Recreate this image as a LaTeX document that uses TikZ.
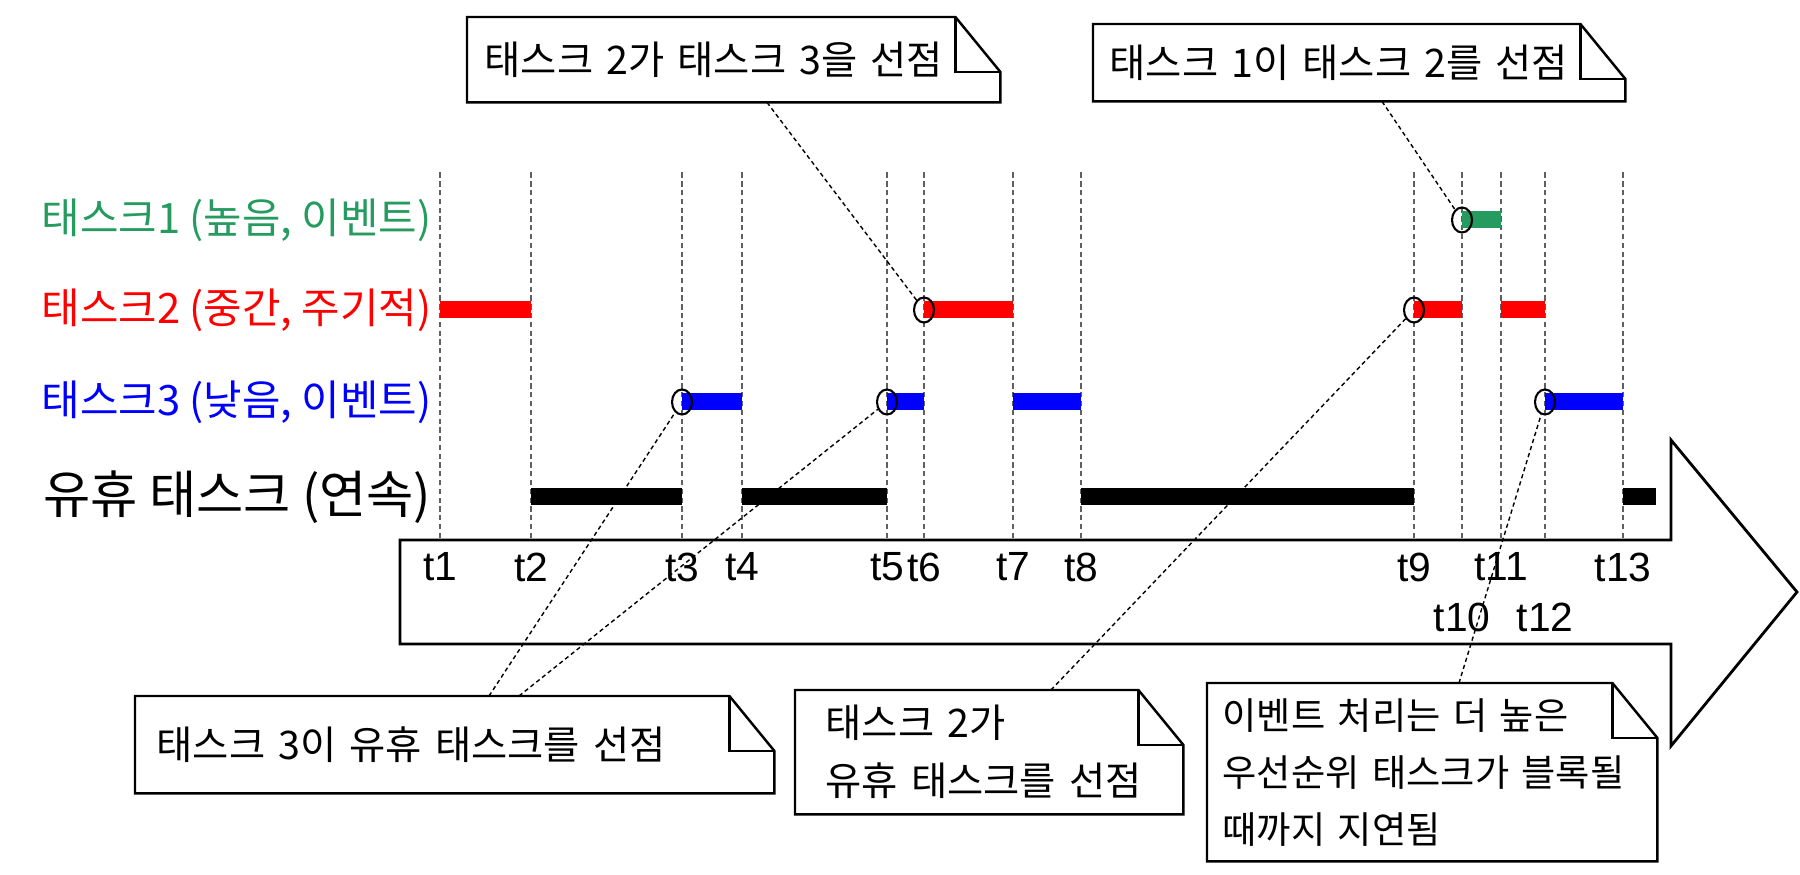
\documentclass[tikz,border=0pt]{standalone}
\usepackage{fontspec}
\setmainfont{Noto Sans CJK KR}
\newfontfamily\tickfont{Liberation Sans}
\usetikzlibrary{shapes.geometric}
\definecolor{taskgreen}{RGB}{38,155,95}

% folded-corner outline round a note node
\newcommand{\dogear}[1]{%
    \draw[note_line] (#1.south west) -- (#1.north west) -- ([xshift=-0.45cm]#1.north east)
        -- ([yshift=-0.55cm]#1.north east) -- (#1.south east) -- cycle;
    \draw[note_line] ([xshift=-0.45cm]#1.north east) |- ([yshift=-0.55cm]#1.north east);
}

\begin{document}
\begin{tikzpicture}[
        task_bar/.style={line width=0.17cm},
        timeline/.style={gray!75!black, line width=0.5pt, dash pattern=on 1.5pt off 1pt},
        ring/.style={ellipse, draw=black, line width=0.6pt, minimum width=0.2cm, minimum height=0.25cm, inner sep=0pt},
        tick_label/.style={font=\tickfont\fontsize{11.6}{13}\selectfont, inner sep=0pt},
        task_label/.style={anchor=east, inner sep=0pt, xshift=-0.08cm, font=\fontsize{11.9}{14}\selectfont},
        note/.style={anchor=north west, fill=white, inner ysep=0pt, align=left, font=\fontsize{11.2}{14}\selectfont},
        note_line/.style={black, line width=0.7pt},
        link/.style={black, line width=0.4pt, dash pattern=on 1.2pt off 0.9pt},
    ]
        \useasboundingbox (0,0) rectangle (18,8.74);

        % time arrow
        \draw[line width=0.8pt, fill=white] (4.00,3.34) -- (16.71,3.34) -- (16.71,4.34) -- (17.97,2.82)
            -- (16.71,1.28) -- (16.71,2.30) -- (4.00,2.30) -- cycle;

        % rows
        \coordinate (r1) at (0, 6.54);
        \coordinate (r2) at (0, 5.64);
        \coordinate (r3) at (0, 4.72);
        \coordinate (r4) at (0, 3.77);

        \foreach \n/\x in {1/4.40, 2/5.31, 3/6.82, 4/7.42, 5/8.87, 6/9.24, 7/10.13,
                8/10.81, 9/14.14, 10/14.62, 11/15.01, 12/15.45, 13/16.23} {
            \coordinate (t\n) at (\x, 3.36);
            \draw[timeline] (t\n) -- ++(0, 3.68);
        }

        \foreach \n in {1,...,9,11,13} {
            \node[tick_label] (lt\n) at (t\n |- 0,3.07) {t\n};
        }
        \foreach \n in {10,12} {
            \node[tick_label] (lt\n) at (t\n |- 0,2.57) {t\n};
        }

        % running slices
        \foreach \c/\a/\b/\r in {red/1/2/2, red/6/7/2, red/9/10/2, red/11/12/2, taskgreen/10/11/1,
                blue/3/4/3, blue/5/6/3, blue/7/8/3, blue/12/13/3, black/2/3/4, black/4/5/4, black/8/9/4} {
            \draw[task_bar, \c] (t\a |- r\r) -- (t\b |- r\r);
        }
        \draw[task_bar, black] (t13 |- r4) -- ++(0.33, 0);

        \foreach \n/\r in {3/3, 5/3, 6/2, 9/2, 10/1, 12/3} {
            \node[ring] (c\n) at (t\n |- r\r) {};
        }

        \node[task_label, text=taskgreen] (lab1) at (t1 |- r1) {태스크1 (높음, 이벤트)};
        \node[task_label, text=red] (lab2) at (t1 |- r2) {태스크2 (중간, 주기적)};
        \node[task_label, text=blue] (lab3) at (t1 |- r3) {태스크3 (낮음, 이벤트)};
        \node[task_label, font=\fontsize{14.6}{17}\selectfont] (lab4) at (t1 |- r4) {유휴 태스크 (연속)};

        % notes
        \node[note, text width=4.98cm, inner xsep=0.17cm, minimum height=0.84cm] (nA) at (4.67, 8.57) {태스크 2가 태스크 3을 선점};
        \node[note, text width=4.99cm, inner xsep=0.16cm, minimum height=0.76cm] (nB) at (10.93, 8.50) {태스크 1이 태스크 2를 선점};
        \node[note, text width=5.96cm, inner xsep=0.21cm, minimum height=0.96cm] (nC) at (1.35, 1.78) {태스크 3이 유휴 태스크를 선점};
        \node[note, text width=3.27cm, inner xsep=0.30cm, minimum height=1.23cm,
            font=\fontsize{11.2}{16.5}\selectfont] (nD) at (7.95, 1.84) {태스크 2가\\유휴 태스크를 선점};
        \node[note, text width=4.19cm, inner xsep=0.15cm, minimum height=1.77cm,
            font=\fontsize{10.6}{16.2}\selectfont] (nE) at (12.07, 1.91) {이벤트 처리는 더 높은\\우선순위 태스크가 블록될\\때까지 지연됨};

        \foreach \n in {nA, nB, nC, nD, nE} {
            \dogear{\n}
        }

        \draw[link] ([xshift=3.00cm]nA.south west) -- (c6);
        \draw[link] ([xshift=2.89cm]nB.south west) -- (c10);
        \draw[link] ([xshift=3.54cm]nC.north west) -- (c3);
        \draw[link] ([xshift=3.84cm]nC.north west) -- (c5);
        \draw[link] ([xshift=2.56cm]nD.north west) -- (c9);
        \draw[link] ([xshift=2.52cm]nE.north west) -- (c12);
    \end{tikzpicture}
\end{document}
